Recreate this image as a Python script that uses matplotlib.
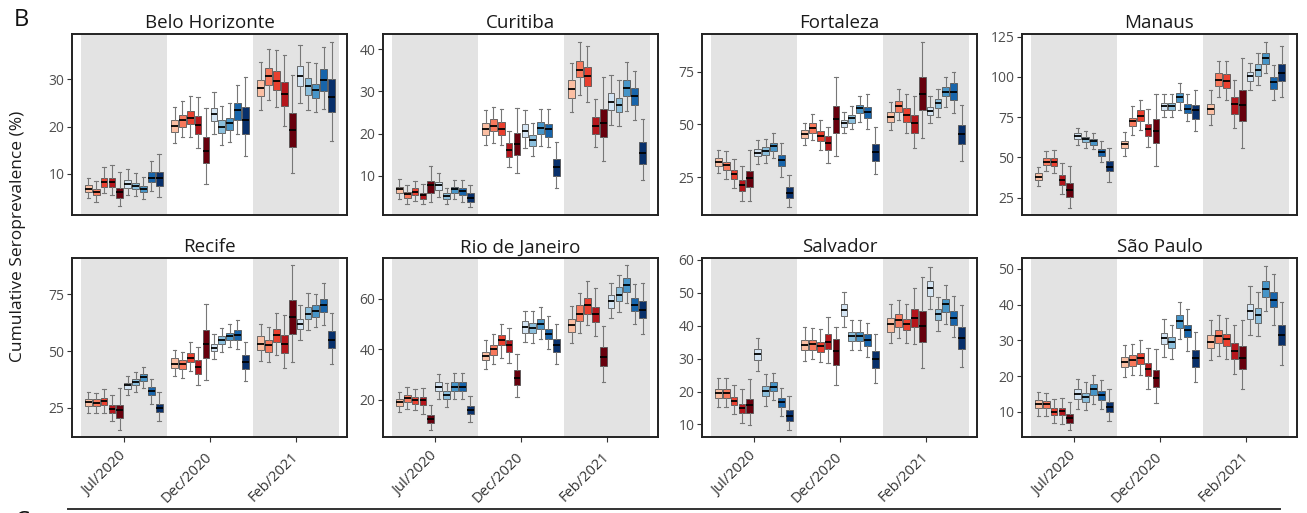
import matplotlib
matplotlib.use("Agg")
import matplotlib.pyplot as plt
from matplotlib.lines import Line2D

plt.rcParams['font.family'] = ['Open Sans', 'DejaVu Sans']

cities = ["Belo Horizonte", "Curitiba", "Fortaleza", "Manaus",
          "Recife", "Rio de Janeiro", "Salvador", "São Paulo"]
periods = ["Jul/2020", "Dec/2020", "Feb/2021"]

reds = ['#fbbfa3', '#f8795c', '#e9402f', '#b5161c', '#67000d']
blues = ['#d4e5f4', '#8bbfdd', '#4795c8', '#1865ab', '#08306b']
box_colors = reds + blues

# each box: (lower whisker, q1, median, q3, upper whisker); 10 boxes per period
belo = [
    (4.9, 6.1, 6.8, 7.6, 9.2), (4.1, 5.5, 6.1, 6.8, 8.4), (5.9, 7.3, 8.3, 9.1, 11.4),
    (5.6, 7.3, 8.2, 9.2, 11.9), (3.1, 4.9, 6.1, 7.0, 10.5), (5.6, 7.0, 7.9, 8.7, 11.0),
    (5.4, 6.8, 7.5, 8.0, 10.1), (4.6, 6.1, 6.9, 7.5, 9.4), (6.3, 8.2, 9.2, 10.5, 12.8),
    (5.2, 7.5, 9.1, 10.5, 14.2),
    (16.5, 18.9, 20.2, 21.4, 24.2), (17.7, 20.0, 21.4, 22.5, 25.4), (17.7, 20.6, 21.9, 23.4, 26.5),
    (15.4, 18.5, 20.4, 22.3, 26.3), (7.9, 12.3, 14.9, 17.7, 23.9), (18.5, 21.1, 22.6, 24.0, 27.4),
    (16.1, 18.6, 19.9, 21.4, 24.4), (16.8, 19.2, 20.7, 21.9, 24.9), (18.5, 21.5, 23.5, 25.1, 28.8),
    (13.7, 18.5, 21.4, 24.2, 30.6),
    (23.5, 26.5, 28.2, 29.9, 33.7), (25.6, 28.9, 30.7, 32.5, 36.4), (24.2, 27.7, 29.7, 31.8, 36.3),
    (20.1, 24.4, 26.9, 29.5, 35.1), (10.1, 15.6, 19.3, 22.8, 30.9), (25.1, 28.6, 30.7, 32.8, 37.3),
    (23.5, 26.6, 28.5, 30.2, 33.7), (23.0, 26.0, 27.7, 29.0, 33.4), (23.7, 27.6, 29.9, 32.1, 36.9),
    (17.0, 23.0, 26.3, 30.0, 38.0),
]
curitiba = [
    (4.6, 6.0, 6.8, 7.4, 9.2), (3.4, 4.8, 5.6, 6.2, 7.8), (4.1, 5.4, 6.2, 7.0, 8.8),
    (3.3, 4.6, 5.4, 6.0, 8.0), (3.8, 6.0, 7.8, 8.8, 12.3), (5.0, 6.6, 7.8, 8.6, 10.7),
    (3.4, 4.5, 5.2, 5.8, 7.1), (4.4, 6.0, 6.8, 7.4, 9.0), (3.8, 5.4, 6.4, 7.0, 9.0),
    (2.5, 3.8, 4.8, 5.8, 7.9),
    (17.3, 19.7, 21.1, 22.6, 25.6), (17.8, 20.5, 21.8, 23.4, 26.4), (17.3, 19.7, 21.2, 22.8, 25.8),
    (12.1, 14.5, 16.1, 17.7, 20.6), (10.7, 14.9, 17.5, 20.1, 26.0), (16.5, 19.1, 20.7, 22.3, 25.6),
    (14.7, 17.1, 18.5, 19.6, 22.4), (17.0, 19.9, 21.4, 22.7, 25.8), (16.7, 19.3, 21.0, 22.3, 25.8),
    (7.0, 10.0, 12.0, 13.9, 18.1),
    (25.2, 28.4, 30.5, 32.7, 36.7), (29.2, 33.4, 35.1, 37.1, 41.8), (27.6, 31.3, 33.7, 35.7, 40.8),
    (16.7, 19.9, 21.8, 23.9, 28.1), (13.6, 19.1, 22.4, 25.8, 33.4), (22.0, 25.6, 27.6, 29.6, 33.9),
    (21.8, 25.2, 26.8, 28.4, 32.7), (25.4, 28.8, 30.7, 32.7, 36.9), (23.2, 26.7, 28.9, 30.7, 34.9),
    (9.0, 12.9, 15.3, 17.9, 23.4),
]
fortaleza = [
    (26.9, 30.4, 32.4, 34.0, 37.9), (24.1, 28.5, 30.8, 32.4, 37.6), (19.8, 24.1, 26.4, 28.5, 33.5),
    (14.0, 18.7, 21.4, 23.7, 30.4), (14.0, 20.3, 24.5, 28.2, 37.9), (31.3, 35.1, 36.7, 38.2, 42.7),
    (31.9, 35.6, 37.6, 39.2, 43.0), (34.0, 37.6, 39.8, 41.4, 45.8), (25.3, 30.5, 33.2, 35.6, 41.4),
    (11.1, 15.1, 17.4, 20.3, 26.1),
    (40.3, 43.5, 45.5, 47.4, 50.9), (42.7, 46.1, 48.5, 50.6, 55.0), (37.9, 42.4, 44.6, 47.1, 52.1),
    (31.9, 37.9, 41.4, 44.6, 49.0), (35.1, 46.1, 52.4, 58.8, 72.3), (45.8, 49.0, 50.6, 52.1, 56.1),
    (47.7, 50.9, 52.9, 54.5, 58.8), (51.3, 55.6, 57.6, 59.2, 63.5), (47.7, 52.9, 56.1, 58.4, 64.3),
    (26.6, 32.9, 37.1, 40.8, 49.0),
    (47.4, 51.3, 53.4, 56.1, 60.8), (52.1, 56.1, 58.8, 61.3, 66.8), (45.8, 51.3, 54.5, 57.6, 64.4),
    (38.7, 45.8, 50.6, 54.5, 63.5), (43.5, 56.9, 64.4, 72.3, 89.2), (50.6, 54.3, 56.5, 58.4, 63.5),
    (53.4, 57.6, 60.0, 61.9, 66.6), (58.4, 63.5, 65.5, 67.9, 72.6), (55.6, 61.6, 65.2, 69.5, 75.0),
    (32.7, 40.8, 45.5, 49.8, 59.2),
]
manaus = [
    (32.3, 36.0, 38.1, 40.0, 44.2), (41.7, 45.4, 47.3, 49.4, 54.2), (40.0, 44.8, 46.9, 49.6, 54.6),
    (27.5, 32.9, 35.8, 39.0, 46.3), (18.3, 25.6, 29.6, 34.4, 44.8), (57.9, 61.3, 63.1, 65.0, 68.3),
    (55.8, 59.4, 61.5, 62.9, 66.7), (55.2, 57.9, 60.0, 61.5, 65.2), (46.9, 51.0, 53.1, 55.2, 60.4),
    (35.0, 41.3, 44.2, 47.5, 55.6),
    (51.0, 55.8, 58.3, 60.4, 66.0), (64.2, 69.4, 72.5, 74.6, 81.7), (67.1, 72.5, 76.0, 79.2, 85.8),
    (56.3, 63.5, 67.7, 70.8, 80.2), (44.8, 58.8, 66.7, 74.0, 89.6), (75.4, 79.2, 81.7, 83.8, 89.6),
    (75.4, 79.2, 81.7, 83.8, 89.6), (79.6, 84.4, 87.5, 90.0, 96.3), (72.5, 77.5, 80.2, 82.9, 89.6),
    (66.3, 74.0, 79.2, 82.3, 91.7),
    (70.4, 76.7, 80.2, 83.3, 91.7), (87.5, 94.2, 97.9, 102.5, 110.0), (85.8, 93.3, 97.5, 102.1, 110.0),
    (68.3, 77.1, 82.9, 87.5, 97.9), (55.8, 72.5, 82.3, 91.7, 111.5), (92.1, 97.5, 100.4, 103.1, 108.8),
    (94.8, 100.4, 104.2, 107.9, 114.6), (102.5, 108.3, 111.5, 115.0, 121.9), (85.8, 92.7, 96.9, 100.0, 107.3),
    (87.5, 97.5, 102.5, 108.3, 119.2),
]
recife = [
    (22.8, 25.7, 27.5, 28.7, 31.9), (22.8, 25.7, 27.2, 28.7, 31.6), (22.8, 26.0, 28.1, 29.3, 33.1),
    (19.0, 22.8, 24.6, 26.0, 30.4), (15.0, 20.4, 23.8, 26.3, 33.7), (30.4, 33.4, 34.9, 36.0, 39.0),
    (31.9, 34.9, 36.3, 37.8, 40.7), (33.7, 36.8, 38.5, 40.0, 42.9), (26.8, 30.4, 32.4, 34.1, 37.8),
    (19.0, 23.1, 25.0, 26.8, 31.9),
    (39.0, 42.5, 44.4, 46.9, 50.3), (38.2, 41.9, 44.1, 45.9, 49.6), (41.0, 45.1, 47.1, 49.3, 54.0),
    (34.9, 40.0, 42.9, 45.9, 51.8), (37.1, 46.9, 53.2, 59.1, 70.9), (46.3, 49.9, 51.3, 53.2, 57.6),
    (49.6, 52.9, 55.0, 56.6, 60.1), (51.8, 55.0, 56.6, 58.1, 62.1), (51.0, 54.7, 57.2, 59.1, 63.5),
    (36.6, 42.2, 45.1, 48.1, 54.0),
    (45.4, 50.3, 53.2, 56.6, 61.8), (45.1, 49.6, 52.5, 54.7, 60.6), (48.4, 54.0, 56.9, 59.9, 66.8),
    (42.5, 49.3, 53.2, 57.2, 66.0), (45.1, 57.6, 65.0, 72.4, 88.1), (55.0, 59.9, 62.1, 64.3, 70.1),
    (59.1, 64.3, 66.5, 69.4, 75.7), (60.6, 65.0, 67.5, 70.1, 75.3), (61.6, 67.2, 70.1, 73.1, 80.1),
    (44.4, 51.3, 55.0, 58.7, 66.8),
]
rio = [
    (15.1, 17.4, 19.1, 20.1, 23.0), (16.4, 19.1, 20.7, 21.7, 25.0), (15.8, 18.4, 19.7, 21.1, 24.4),
    (14.5, 18.0, 19.7, 21.1, 24.6), (7.9, 10.9, 12.5, 14.1, 18.0), (20.4, 23.3, 25.0, 27.0, 30.3),
    (17.1, 20.4, 21.7, 23.3, 26.7), (20.1, 23.4, 25.0, 27.0, 30.6), (20.1, 23.4, 25.0, 27.0, 30.7),
    (11.2, 14.2, 15.8, 17.5, 21.5),
    (32.0, 35.6, 37.3, 38.9, 43.5), (34.3, 37.8, 39.9, 41.8, 46.1), (36.5, 41.5, 43.5, 45.5, 49.8),
    (34.7, 38.9, 41.8, 43.5, 48.4), (21.1, 25.9, 28.7, 31.6, 38.2), (42.8, 46.5, 48.8, 51.0, 55.1),
    (42.6, 46.5, 48.4, 50.5, 55.0), (43.9, 47.9, 50.1, 52.1, 56.7), (40.2, 44.2, 46.1, 48.1, 53.0),
    (34.3, 38.9, 41.8, 44.2, 49.8),
    (42.6, 46.8, 49.4, 51.8, 57.0), (46.5, 51.0, 54.1, 57.4, 62.2), (49.4, 54.1, 57.4, 60.3, 66.9),
    (45.1, 50.8, 54.1, 56.7, 64.2), (27.0, 33.3, 36.9, 40.9, 49.2), (52.3, 56.3, 58.9, 61.3, 66.2),
    (54.7, 58.9, 61.6, 64.6, 69.5), (58.4, 62.6, 65.5, 68.2, 73.5), (50.1, 55.0, 57.6, 60.3, 65.9),
    (46.1, 52.3, 55.6, 58.9, 66.3),
]
salvador = [
    (15.2, 18.0, 19.7, 20.9, 24.2), (15.2, 18.0, 19.7, 20.9, 24.0), (13.2, 15.9, 17.2, 18.5, 21.9),
    (10.5, 13.5, 14.9, 16.2, 20.7), (9.7, 13.5, 15.9, 17.9, 23.7), (26.2, 29.5, 31.5, 32.9, 36.4),
    (15.7, 18.7, 20.2, 21.7, 25.2), (17.5, 20.2, 21.5, 22.9, 25.7), (12.5, 15.2, 16.9, 18.2, 21.2),
    (8.2, 11.2, 12.7, 14.5, 18.7),
    (29.2, 32.5, 34.2, 35.7, 39.5), (29.9, 32.7, 34.4, 35.7, 39.4), (28.9, 32.1, 33.9, 35.2, 38.9),
    (28.7, 32.9, 35.2, 37.5, 42.7), (21.9, 28.2, 32.2, 35.9, 39.7), (39.7, 42.9, 44.9, 46.7, 50.4),
    (32.7, 35.4, 36.9, 38.2, 41.9), (32.5, 35.4, 36.9, 38.2, 41.9), (30.5, 33.9, 35.7, 37.5, 40.9),
    (22.5, 27.2, 29.9, 32.2, 37.5),
    (34.7, 38.2, 40.5, 42.5, 46.7), (36.2, 39.7, 41.7, 43.5, 47.7), (34.9, 38.7, 40.5, 42.2, 46.7),
    (34.4, 39.7, 42.5, 45.2, 51.5), (27.2, 35.2, 39.9, 44.5, 54.7), (45.2, 49.2, 51.5, 53.5, 57.9),
    (38.5, 41.7, 43.5, 45.2, 48.7), (40.5, 44.2, 46.5, 48.2, 52.5), (36.5, 40.2, 42.5, 44.5, 49.2),
    (27.5, 32.9, 36.2, 39.5, 46.2),
]
sao_paulo = [
    (8.9, 11.1, 12.3, 13.3, 15.6), (8.9, 11.1, 12.1, 13.1, 15.4), (7.0, 9.1, 10.0, 11.1, 13.5),
    (6.7, 9.1, 10.2, 11.1, 13.9), (4.9, 7.0, 8.3, 9.3, 12.8), (10.9, 13.5, 15.1, 16.3, 19.3),
    (10.5, 12.8, 14.2, 15.3, 18.4), (12.3, 14.8, 16.5, 17.9, 20.4), (10.7, 13.3, 14.7, 15.9, 18.8),
    (7.4, 10.0, 11.4, 12.8, 16.5),
    (19.8, 22.6, 24.0, 25.3, 28.6), (20.2, 22.8, 24.4, 25.8, 29.1), (20.2, 23.5, 25.1, 26.6, 30.0),
    (16.5, 20.0, 22.1, 23.8, 27.9), (12.6, 17.0, 19.5, 21.6, 27.5), (25.3, 29.1, 30.7, 32.1, 36.0),
    (24.7, 27.9, 29.5, 30.9, 34.4), (30.5, 33.4, 35.3, 37.2, 40.7), (26.9, 30.9, 32.8, 34.4, 38.7),
    (18.4, 22.6, 25.1, 27.2, 32.3),
    (24.4, 27.9, 29.5, 31.4, 35.6), (25.6, 29.3, 31.2, 32.8, 37.2), (24.9, 28.4, 30.3, 31.9, 36.2),
    (20.7, 24.7, 26.9, 29.3, 34.4), (16.3, 21.9, 25.1, 28.4, 35.6), (31.6, 35.9, 38.1, 40.2, 45.2),
    (31.2, 34.9, 37.2, 39.0, 43.5), (38.1, 42.1, 44.4, 46.5, 50.9), (34.2, 39.3, 41.4, 43.5, 48.6),
    (23.0, 28.6, 31.4, 34.4, 40.7),
]
city_data = [belo, curitiba, fortaleza, manaus, recife, rio, salvador, sao_paulo]

yticks = [[10, 20, 30], [10, 20, 30, 40], [25, 50, 75], [25, 50, 75, 100, 125],
          [25, 50, 75], [20, 40, 60], [10, 20, 30, 40, 50, 60], [10, 20, 30, 40, 50]]
ylims = [(1.3, 39.6), (0.7, 43.6), (7.2, 92.8), (14.2, 126.7),
         (12.1, 91.0), (5.2, 76.1), (6.2, 60.6), (3.0, 53.0)]

W, H = 1307, 513
fig = plt.figure(figsize=(W / 100, H / 100), dpi=100)

lefts = [72, 383, 702, 1022]
rows = [(34, 215), (258, 437)]
pw = 275
step = 0.0913
bw = 0.078

for k, city in enumerate(cities):
    r, c = divmod(k, 4)
    top, bot = rows[r]
    ax = fig.add_axes([lefts[c] / W, 1 - bot / H, pw / W, (bot - top) / H])
    ax.axvspan(0.5, 1.5, color='#e3e3e3', zorder=0, lw=0)
    ax.axvspan(2.5, 3.5, color='#e3e3e3', zorder=0, lw=0)

    data = city_data[k]
    stats, pos = [], []
    for j, (wl, q1, med, q3, wh) in enumerate(data):
        g, i = divmod(j, 10)
        stats.append(dict(whislo=wl, q1=q1, med=med, q3=q3, whishi=wh, fliers=[]))
        pos.append(g + 1 + (i - 4.5) * step)
    bp = ax.bxp(stats, positions=pos, widths=bw, patch_artist=True,
                showfliers=False, manage_ticks=False,
                boxprops=dict(edgecolor='#555555', linewidth=0.6),
                medianprops=dict(color='black', linewidth=1.3),
                whiskerprops=dict(color='#777777', linewidth=0.8),
                capprops=dict(color='#777777', linewidth=0.8))
    for j, patch in enumerate(bp['boxes']):
        patch.set_facecolor(box_colors[j % 10])
        patch.set_zorder(2)

    ax.set_xlim(0.4, 3.59)
    ax.set_ylim(*ylims[k])
    ax.set_yticks(yticks[k])
    ax.tick_params(axis='y', labelsize=10, colors='#333333', labelcolor='#4d4d4d',
                   length=3.5, width=0.8, pad=2)
    if r == 1:
        ax.set_xticks([1, 2, 3])
        ax.set_xticklabels(periods, rotation=45, ha='right', va='center',
                           rotation_mode='anchor', fontsize=10.5, color='#4d4d4d')
        ax.tick_params(axis='x', length=3.5, width=0.8, colors='#333333', pad=9)
    else:
        ax.set_xticks([])
    for s in ax.spines.values():
        s.set_linewidth(1.4)
        s.set_color('#222222')
    ax.set_title(city, fontsize=13.5, pad=4, color='#1a1a1a')

fig.text(18 / W, 1 - 236 / H, 'Cumulative Seroprevalence (%)', rotation=90,
         ha='center', va='center', fontsize=12.5, color='#1a1a1a')
fig.text(14 / W, 1 - 20 / H, 'B', fontsize=17, ha='left', va='center', color='#111111')
fig.text(14 / W, 1 - 522 / H, 'C', fontsize=17, ha='left', va='center', color='#111111')
fig.add_artist(Line2D([68 / W, 1280 / W], [1 - 509 / H, 1 - 509 / H],
                      color='#333333', lw=1.4, transform=fig.transFigure))

fig.savefig('out.png', dpi=100)
